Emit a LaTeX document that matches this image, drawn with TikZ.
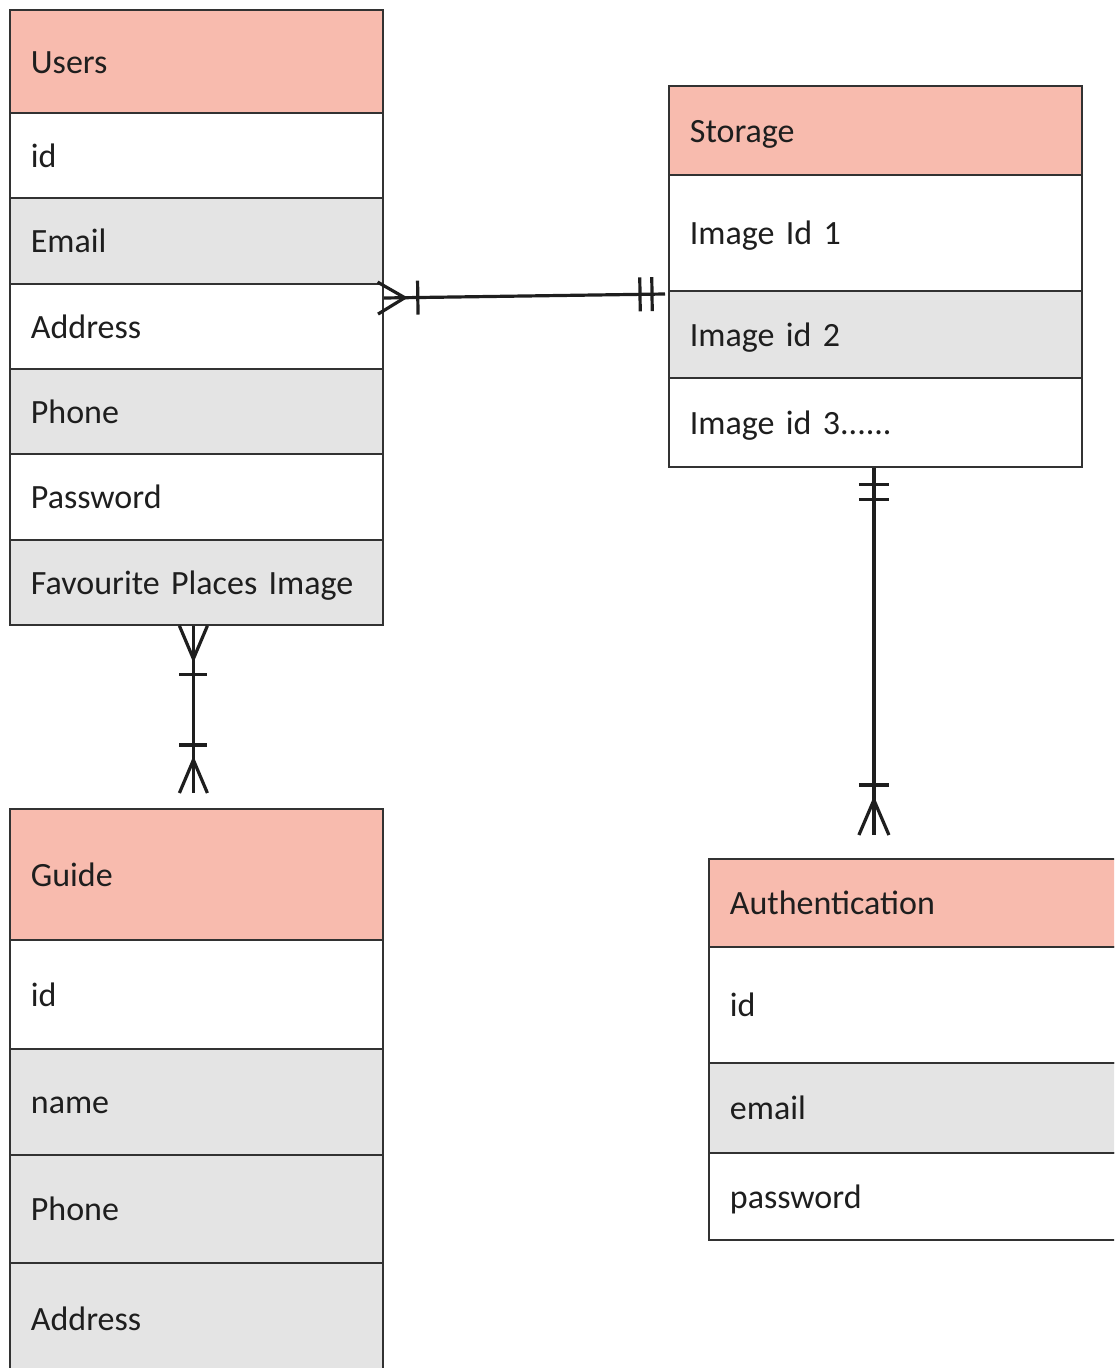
\documentclass[tikz,border=0pt]{standalone}
\usepackage{fontspec}
\setmainfont{Carlito}
\usepackage{tikz}
\usetikzlibrary{calc}

\definecolor{hdrfill}{RGB}{248,187,174}
\definecolor{rowgray}{RGB}{228,228,228}
\definecolor{edge}{RGB}{50,50,50}
\definecolor{ink}{RGB}{30,30,30}

\begin{document}
\begin{tikzpicture}[x=1pt,y=-1pt,
    tbl/.style={draw=edge,line width=1.8pt,anchor=north west,inner xsep=21pt,
      align=left,text=ink,font=\fontsize{34}{36}\selectfont,
      text height=28pt,text depth=4pt},
    ucol/.style={tbl,minimum width=373pt,text width=331pt},
    scol/.style={tbl,minimum width=413pt,text width=371pt},
    acol/.style={tbl,minimum width=450pt,text width=408pt},
    hdrrow/.style={fill=hdrfill},
    whiterow/.style={fill=white},
    grayrow/.style={fill=rowgray},
    conn/.style={line width=3.2pt,draw=ink}]
    \useasboundingbox (0,0) rectangle (1114,1368);
    \clip (0,0) rectangle (1114,1368);
    % Users
    \node[ucol,hdrrow,minimum height=103pt] (uhead) at (9,9) {Users};
    \node[ucol,whiterow,minimum height=85pt] (uid) at (9,112) {id};
    \node[ucol,grayrow,minimum height=86pt] (uemail) at (9,197) {Email};
    \node[ucol,whiterow,minimum height=85pt] (uaddr) at (9,283) {Address};
    \node[ucol,grayrow,minimum height=85pt] (uphone) at (9,368) {Phone};
    \node[ucol,whiterow,minimum height=86pt] (upass) at (9,453) {Password};
    \node[ucol,grayrow,minimum height=85pt] (ufav) at (9,539) {Favourite Places Image};
    % Storage
    \node[scol,hdrrow,minimum height=89pt] (shead) at (668,85) {Storage};
    \node[scol,whiterow,minimum height=116pt] (simg1) at (668,174) {Image Id 1};
    \node[scol,grayrow,minimum height=87pt] (simg2) at (668,290) {Image id 2};
    \node[scol,whiterow,minimum height=89pt] (simg3) at (668,377) {Image id 3......};
    % Guide
    \node[ucol,hdrrow,minimum height=131pt] (ghead) at (9,808) {Guide};
    \node[ucol,whiterow,minimum height=109pt] (gid) at (9,939) {id};
    \node[ucol,grayrow,minimum height=106pt] (gname) at (9,1048) {name};
    \node[ucol,grayrow,minimum height=108pt] (gphone) at (9,1154) {Phone};
    \node[ucol,grayrow,minimum height=112pt] (gaddr) at (9,1262) {Address};
    % Authentication
    \node[acol,hdrrow,minimum height=88pt] (ahead) at (708,858) {Authentication};
    \node[acol,whiterow,minimum height=116pt] (aid) at (708,946) {id};
    \node[acol,grayrow,minimum height=90pt] (aemail) at (708,1062) {email};
    \node[acol,whiterow,minimum height=87pt] (apass) at (708,1152) {password};

    % Users -- Storage
    \coordinate (us1) at ([yshift=-15pt]uaddr.north east);
    \coordinate (us2) at ([yshift=-4pt,xshift=-3pt]simg2.north west);
    \draw[conn] (us1) -- (us2);
    \draw[conn] ($(us1)!-6pt!(us2)!16pt!90:(us2)$) -- ($(us1)!21pt!(us2)$)
      -- ($(us1)!-6pt!(us2)!16pt!-90:(us2)$);
    \draw[conn] ($(us1)!34pt!(us2)!17pt!90:(us2)$) -- ($(us1)!34pt!(us2)!17pt!-90:(us2)$);
    \draw[conn] ($(us2)!13pt!(us1)!17pt!90:(us1)$) -- ($(us2)!13pt!(us1)!17pt!-90:(us1)$);
    \draw[conn] ($(us2)!25pt!(us1)!17pt!90:(us1)$) -- ($(us2)!25pt!(us1)!17pt!-90:(us1)$);

    % Users -- Guide
    \coordinate (ug1) at ([xshift=-3pt]ufav.south);
    \coordinate (ug2) at ([xshift=-3pt,yshift=15pt]ghead.north);
    \draw[conn] (ug1) -- (ug2);
    \draw[conn] ($(ug1)+(-14,0)$) -- ($(ug1)+(0,33)$) -- ($(ug1)+(14,0)$);
    \draw[conn] ($(ug1)+(-14,49)$) -- ($(ug1)+(14,49)$);
    \draw[conn] ($(ug2)+(-14,0)$) -- ($(ug2)+(0,-33)$) -- ($(ug2)+(14,0)$);
    \draw[conn] ($(ug2)+(-14,-48)$) -- ($(ug2)+(14,-48)$);

    % Storage -- Authentication
    \coordinate (sa1) at ([xshift=-1.5pt]simg3.south);
    \coordinate (sa2) at ($(sa1 |- ahead.north)+(0,-23)$);
    \draw[conn] (sa1) -- (sa2);
    \draw[conn] ($(sa1)+(-15,17)$) -- ($(sa1)+(15,17)$);
    \draw[conn] ($(sa1)+(-15,32)$) -- ($(sa1)+(15,32)$);
    \draw[conn] ($(sa2)+(-15,0)$) -- ($(sa2)+(0,-35)$) -- ($(sa2)+(15,0)$);
    \draw[conn] ($(sa2)+(-15,-50)$) -- ($(sa2)+(15,-50)$);
\end{tikzpicture}
\end{document}
